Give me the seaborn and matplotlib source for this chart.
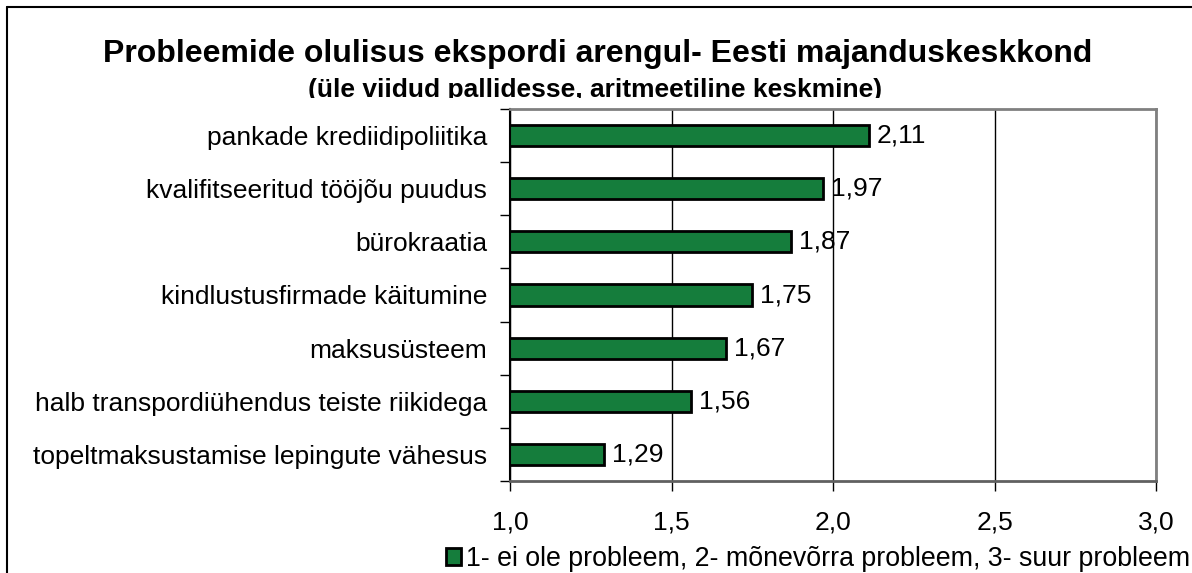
import numpy as np
import pandas as pd
import matplotlib.pyplot as plt
import seaborn as sns
from matplotlib.lines import Line2D
from matplotlib.patches import Rectangle
from matplotlib.ticker import FuncFormatter

# andmed
categories = [
    'pankade krediidipoliitika',
    'kvalifitseeritud tööjõu puudus',
    'bürokraatia',
    'kindlustusfirmade käitumine',
    'maksusüsteem',
    'halb transpordiühendus teiste riikidega',
    'topeltmaksustamise lepingute vähesus',
]
values = [2.11, 1.97, 1.87, 1.75, 1.67, 1.56, 1.29]
x_ticks = [1.0, 1.5, 2.0, 2.5, 3.0]

title = 'Probleemide olulisus ekspordi arengul- Eesti majanduskeskkond'
subtitle = '(üle viidud pallidesse, aritmeetiline keskmine)'
legend_text = '1- ei ole probleem, 2- mõnevõrra probleem, 3- suur probleem'

sns.set_style('white')
plt.rcParams['font.family'] = ['Liberation Sans', 'DejaVu Sans']
plt.rcParams['text.color'] = 'black'
plt.rcParams['xtick.color'] = 'black'
plt.rcParams['ytick.color'] = 'black'

W, H = 1192, 573
fig = plt.figure(figsize=(W / 100, H / 100), dpi=100)
ax = fig.add_axes([510 / W, 1 - 481 / H, (1156 - 510) / W, (481 - 109) / H])
ax.set_zorder(2)

df = pd.DataFrame({'kategooria': categories, 'vaartus': values})
sns.barplot(data=df, x='vaartus', y='kategooria', orient='h', color='#157D3C',
            edgecolor='black', linewidth=2, width=0.4, saturation=1,
            label=legend_text, ax=ax)

ax.set_xlim(1, 3)
ax.set_ylim(6.5, -0.5)
ax.set_xticks(x_ticks)
ax.xaxis.set_major_formatter(FuncFormatter(lambda v, p: f'{v:.1f}'.replace('.', ',')))
ax.set_xlabel('')
ax.set_ylabel('')

# y teljel kriipsud kategooriate vahel
ax.set_yticks(np.arange(len(categories)))
ax.set_yticklabels(categories)
ax.set_yticks(np.arange(len(categories) + 1) - 0.5, minor=True)
ax.tick_params(axis='y', which='major', length=0, pad=16.5, labelsize=19)
ax.tick_params(axis='y', which='minor', left=True, length=7, width=1, color='black', direction='out')
ax.tick_params(axis='x', bottom=True, length=7, width=1, color='black', direction='out', pad=14, labelsize=19)

ax.grid(axis='x', color='black', linewidth=1)
ax.set_axisbelow(True)
ax.spines['left'].set_color('black')
ax.spines['left'].set_linewidth(1.5)
ax.spines['bottom'].set_color('#606060')
ax.spines['bottom'].set_linewidth(2)
ax.spines['top'].set_color('#808080')
ax.spines['top'].set_linewidth(2)
ax.spines['right'].set_color('#808080')
ax.spines['right'].set_linewidth(2)

# väärtused ribade järel
for i, v in enumerate(values):
    ax.text(v + 0.025, i, f'{v:.2f}'.replace('.', ','), va='center', ha='left', fontsize=19)

# pealkirjad
fig.text(598 / W, 1 - 62 / H, title, ha='center', va='baseline', fontsize=23, fontweight='bold')
t2 = fig.text(595.5 / W, 1 - 97 / H, subtitle, ha='center', va='baseline', fontsize=19, fontweight='bold')
t2.set_zorder(0.5)
fig.add_artist(Rectangle((250 / W, 1 - 109 / H), 700 / W, 11 / H, transform=fig.transFigure,
                         facecolor='white', edgecolor='none', zorder=1))

# legend
ax.legend(loc='center right', bbox_to_anchor=(1190 / W, 1 - 559 / H), bbox_transform=fig.transFigure,
          frameon=False, fontsize=19.3, handlelength=0.55, handleheight=0.55, handletextpad=0.2,
          borderpad=0, borderaxespad=0)

# raami jooned
fig.add_artist(Line2D([7 / W, 7 / W], [0, 1 - 7 / H], transform=fig.transFigure, color='black', lw=1.5))
fig.add_artist(Line2D([7 / W, 1], [1 - 7 / H, 1 - 7 / H], transform=fig.transFigure, color='black', lw=1.5))

fig.savefig('out.png', dpi=100)
